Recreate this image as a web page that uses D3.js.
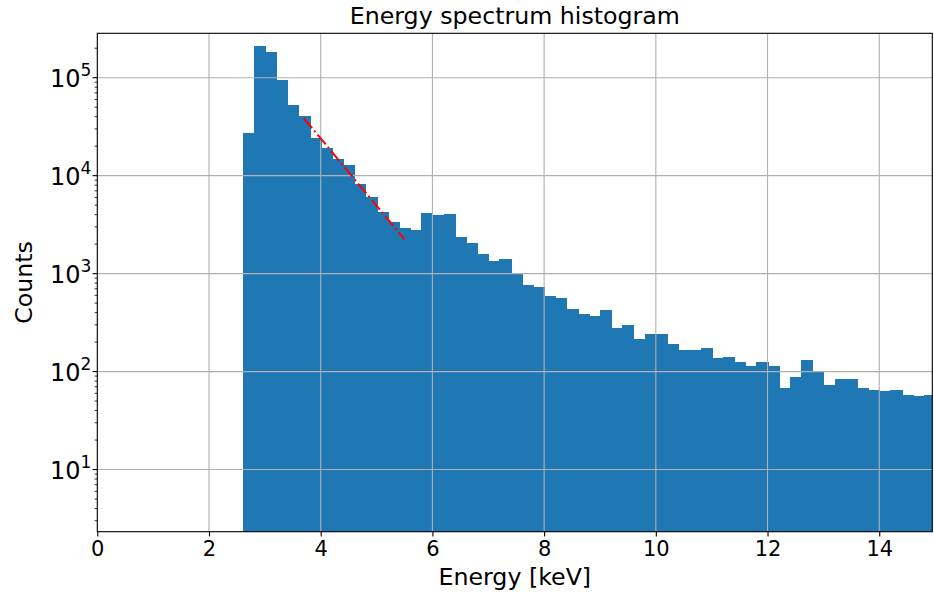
<!DOCTYPE html>
<html>
<head>
<meta charset="utf-8">
<script src="https://cdn.jsdelivr.net/npm/d3@7"></script>
<style>
  html, body { margin: 0; padding: 0; background: #fff; }
  text { font-family: "DejaVu Sans", sans-serif; fill: #000; }
</style>
</head>
<body>
<svg id="chart" width="934" height="593"></svg>
<script>
// ---- data ----
const binStart = 2.6;      // keV, left edge of first bin
const binWidth = 0.2;      // keV
const counts = [
  27000, 211000, 183000, 94700, 52600, 40900, 24400, 19000, 14800, 12800,
  8200, 6100, 4280, 3390, 2900, 2790, 4130, 3960, 4060, 2380,
  2040, 1570, 1355, 1420, 991, 765, 725, 590, 560, 439,
  384, 366, 422, 276, 296, 213, 242, 242, 192, 166,
  166, 173, 138, 142, 124, 113, 124, 113, 67.5, 88.5,
  131, 98, 73, 83.4, 83.4, 67.5, 64.4, 62.9, 64.4, 57.3,
  55.9, 57.3
];
const fitX = [3.7, 5.5];
const fitY = [38500, 2240];
const xTicks = [0, 2, 4, 6, 8, 10, 12, 14];
const yTickExps = [1, 2, 3, 4, 5];
const title = "Energy spectrum histogram";
const xLabel = "Energy [keV]";
const yLabel = "Counts";

// ---- layout ----
const svg = d3.select("#chart");
const L = 97.3, R = 932.3, T = 33.3, B = 531.7;
const x = d3.scaleLinear().domain([0, 14.95]).range([L, R]);
const y = d3.scaleLog().domain([2.32, 2.84e5]).range([B, T]);

svg.append("defs").append("clipPath").attr("id", "clip")
  .append("rect").attr("x", L).attr("y", T).attr("width", R - L).attr("height", B - T);

const bins = counts.map((c, i) => ({
  x0: binStart + i * binWidth,
  x1: binStart + (i + 1) * binWidth,
  c
}));

const plot = svg.append("g").attr("clip-path", "url(#clip)");

// bars
plot.append("g").attr("shape-rendering", "crispEdges")
  .selectAll("rect").data(bins).join("rect")
  .attr("x", d => x(d.x0))
  .attr("width", d => x(d.x1) - x(d.x0) + 1)
  .attr("y", d => y(d.c))
  .attr("height", d => B - y(d.c))
  .attr("fill", "#1f77b4");

// grid (drawn over bars)
const grid = plot.append("g").attr("stroke", "#b0b0b0").attr("stroke-width", 1.1);
grid.selectAll("line.gx").data(xTicks).join("line")
  .attr("x1", d => x(d)).attr("x2", d => x(d)).attr("y1", T).attr("y2", B);
grid.selectAll("line.gy").data(yTickExps).join("line")
  .attr("y1", d => y(Math.pow(10, d))).attr("y2", d => y(Math.pow(10, d)))
  .attr("x1", L).attr("x2", R);

// fit line
plot.append("path")
  .datum(fitX.map((v, i) => [v, fitY[i]]))
  .attr("d", d3.line().x(d => x(d[0])).y(d => y(d[1])))
  .attr("fill", "none").attr("stroke", "#ff0000").attr("stroke-width", 2)
  .attr("stroke-dasharray", "12.8,3.2,2,3.2");

// x axis
const xAxis = svg.append("g").attr("transform", `translate(0,${B})`)
  .call(d3.axisBottom(x).tickValues(xTicks).tickFormat(d3.format("d")).tickSize(4.7).tickPadding(4.5));
xAxis.select(".domain").remove();
xAxis.selectAll(".tick line").attr("stroke", "#000").attr("stroke-width", 1.1);
xAxis.selectAll(".tick text").style("font-size", "21px").style("font-family", "DejaVu Sans");

// y axis with minor ticks
const minor = [];
for (let e = 0; e <= 5; e++) for (let m = 2; m <= 9; m++) {
  const v = m * Math.pow(10, e);
  if (v >= y.domain()[0] && v <= y.domain()[1]) minor.push(v);
}
const yg = svg.append("g");
yg.selectAll("line.minor").data(minor).join("line")
  .attr("x1", L - 2.7).attr("x2", L).attr("y1", d => y(d)).attr("y2", d => y(d))
  .attr("stroke", "#000").attr("stroke-width", 0.8);
yg.selectAll("line.major").data(yTickExps).join("line")
  .attr("x1", L - 4.7).attr("x2", L)
  .attr("y1", d => y(Math.pow(10, d))).attr("y2", d => y(Math.pow(10, d)))
  .attr("stroke", "#000").attr("stroke-width", 1.1);
const yt = yg.selectAll("text.yl").data(yTickExps).join("text")
  .attr("x", L - 6).attr("y", d => y(Math.pow(10, d)) + 9)
  .attr("text-anchor", "end").style("font-size", "24px");
yt.append("tspan").text("10");
yt.append("tspan").attr("dy", -11).style("font-size", "17px").text(d => d);

// spines
svg.append("rect").attr("x", L).attr("y", T).attr("width", R - L).attr("height", B - T)
  .attr("fill", "none").attr("stroke", "#000").attr("stroke-width", 1.1);

// labels
svg.append("text").attr("x", (L + R) / 2).attr("y", 24).attr("text-anchor", "middle")
  .style("font-size", "23.7px").text(title);
svg.append("text").attr("x", (L + R) / 2).attr("y", 585).attr("text-anchor", "middle")
  .style("font-size", "23.7px").text(xLabel);
svg.append("text").attr("transform", `translate(32,${(T + B) / 2}) rotate(-90)`)
  .attr("text-anchor", "middle").style("font-size", "23.7px").text(yLabel);
</script>
</body>
</html>
